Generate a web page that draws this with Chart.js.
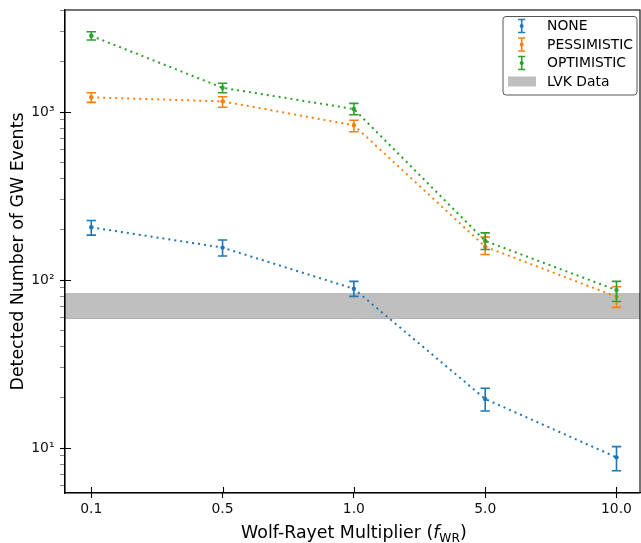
<!DOCTYPE html>
<html>
<head>
<meta charset="utf-8">
<script src="https://cdn.jsdelivr.net/npm/chart.js@4.4.0/dist/chart.umd.min.js"></script>
<style>
  html, body { margin: 0; padding: 0; background: #fff; overflow: hidden; }
  canvas { display: block; }
</style>
</head>
<body>
<canvas id="chart-gw" width="641" height="543"></canvas>
<script>
// x categories (Wolf-Rayet multiplier) and the three models, with error bar ends
var multipliers = ['0.1', '0.5', '1.0', '5.0', '10.0'];

var noneMid = [206, 156, 88.7, 19.6, 8.8];
var noneLo  = [185, 139, 80, 16.6, 7.33];
var noneHi  = [226, 173, 98.2, 22.7, 10.2];

var pessMid = [1223, 1158, 834, 158, 79.6];
var pessLo  = [1142, 1067, 763, 142, 68.8];
var pessHi  = [1303, 1233, 893, 180, 91.2];

var optMid = [2845, 1395, 1042, 171, 87.1];
var optLo  = [2683, 1303, 964, 152, 74.6];
var optHi  = [3006, 1483, 1127, 191, 98.2];

var lvkBand = [59, 83];
var yTickLabels = { 10: '10\u00b9', 100: '10\u00b2', 1000: '10\u00b3' };

var series = [
  { label: 'NONE', color: '#1f77b4', mid: noneMid, lo: noneLo, hi: noneHi },
  { label: 'PESSIMISTIC', color: '#ff7f0e', mid: pessMid, lo: pessLo, hi: pessHi },
  { label: 'OPTIMISTIC', color: '#2ca02c', mid: optMid, lo: optLo, hi: optHi }
];

var Y_MIN = 5.4, Y_MAX = 4050;
var FONT = "'DejaVu Sans', sans-serif";
Chart.defaults.font.family = FONT;

function isPow10(v) {
  var l = Math.log10(v);
  return Math.abs(l - Math.round(l)) < 1e-9;
}

function errorBar(c, x, yLo, yHi, half) {
  c.beginPath();
  c.moveTo(x, yLo); c.lineTo(x, yHi);
  c.moveTo(x - half, yLo); c.lineTo(x + half, yLo);
  c.moveTo(x - half, yHi); c.lineTo(x + half, yHi);
  c.stroke();
}

var gwPlugin = {
  id: 'gwExtras',
  beforeDatasetsDraw: function(chart) {
    var c = chart.ctx, a = chart.chartArea, ys = chart.scales.y;
    var top = ys.getPixelForValue(lvkBand[1]);
    var bot = ys.getPixelForValue(lvkBand[0]);
    c.save();
    c.fillStyle = 'rgba(128,128,128,0.5)';
    c.fillRect(a.left, top, a.right - a.left, bot - top);
    c.strokeStyle = 'rgba(128,128,128,0.45)';
    c.lineWidth = 1;
    c.beginPath();
    c.moveTo(a.left, top); c.lineTo(a.right, top);
    c.moveTo(a.left, bot); c.lineTo(a.right, bot);
    c.stroke();
    c.restore();
  },
  afterDatasetsDraw: function(chart) {
    var c = chart.ctx, a = chart.chartArea;
    var xs = chart.scales.x, ys = chart.scales.y;
    c.save();
    c.beginPath();
    c.rect(a.left, a.top, a.right - a.left, a.bottom - a.top);
    c.clip();
    c.lineWidth = 1.6;
    series.forEach(function(s) {
      c.strokeStyle = s.color;
      s.mid.forEach(function(v, i) {
        errorBar(c, xs.getPixelForValue(i), ys.getPixelForValue(s.lo[i]), ys.getPixelForValue(s.hi[i]), 4.7);
      });
    });
    c.restore();

    // spines and the inner half of major ticks
    c.save();
    c.strokeStyle = '#000';
    c.lineWidth = 1.1;
    c.strokeRect(a.left, a.top, a.right - a.left, a.bottom - a.top);
    c.beginPath();
    multipliers.forEach(function(m, i) {
      var px = Math.round(xs.getPixelForValue(i)) + 0.5;
      c.moveTo(px, a.bottom); c.lineTo(px, a.bottom - 6);
    });
    [10, 100, 1000].forEach(function(v) {
      var py = Math.round(ys.getPixelForValue(v)) + 0.5;
      c.moveTo(a.left, py); c.lineTo(a.left + 6, py);
    });
    c.stroke();
    c.restore();
  },
  afterDraw: function(chart) {
    var c = chart.ctx, a = chart.chartArea, xs = chart.scales.x;
    c.save();
    c.fillStyle = '#000';

    // y title
    c.font = '17.4px ' + FONT;
    c.textAlign = 'center';
    c.textBaseline = 'alphabetic';
    c.save();
    c.translate(22.5, (a.top + a.bottom) / 2);
    c.rotate(-Math.PI / 2);
    c.fillText('Detected Number of GW Events', 0, 0);
    c.restore();

    // x title with italic f and subscript WR
    var parts = [
      { t: 'Wolf-Rayet Multiplier (', f: '17.4px ' + FONT, dy: 0 },
      { t: 'f', f: 'oblique 17.4px ' + FONT, dy: 0 },
      { t: 'WR', f: '12.2px ' + FONT, dy: 3.6 },
      { t: ')', f: '17.4px ' + FONT, dy: 0 }
    ];
    var total = 0;
    parts.forEach(function(p) { c.font = p.f; p.w = c.measureText(p.t).width; total += p.w; });
    var x0 = xs.getPixelForValue(2) - total / 2;
    c.textAlign = 'left';
    parts.forEach(function(p) {
      c.font = p.f;
      c.fillText(p.t, x0, 538 + p.dy);
      x0 += p.w;
    });

    // legend
    var lx = 503, ly = 16.5, lw = 134, lh = 78.5;
    c.beginPath();
    c.roundRect(lx, ly, lw, lh, 3);
    c.fillStyle = 'rgba(255,255,255,0.8)';
    c.fill();
    c.strokeStyle = '#555';
    c.lineWidth = 1;
    c.stroke();

    var rows = [26, 44.5, 63, 81.5];
    c.font = '13.9px ' + FONT;
    c.textBaseline = 'middle';
    series.forEach(function(s, k) {
      var ry = rows[k];
      c.strokeStyle = s.color;
      c.lineWidth = 1.6;
      errorBar(c, 521.7, ry - 6.5, ry + 6.5, 3.6);
      c.fillStyle = s.color;
      c.beginPath();
      c.arc(521.7, ry, 2, 0, Math.PI * 2);
      c.fill();
      c.fillStyle = '#000';
      c.fillText(s.label, 547, ry + 0.5);
    });
    c.fillStyle = 'rgba(128,128,128,0.5)';
    c.fillRect(508, rows[3] - 5, 28, 10);
    c.fillStyle = '#000';
    c.fillText('LVK Data', 547, rows[3] + 0.5);
    c.restore();
  }
};

var ctx = document.getElementById('chart-gw').getContext('2d');
new Chart(ctx, {
  type: 'line',
  data: {
    datasets: series.map(function(s, k) {
      return {
        label: s.label,
        data: s.mid.map(function(v, i) { return { x: i, y: v }; }),
        borderColor: s.color,
        backgroundColor: s.color,
        borderWidth: 2,
        borderDash: [2, 4],
        borderCapStyle: 'butt',
        pointRadius: 2.2,
        pointBorderWidth: 0,
        pointBackgroundColor: s.color,
        tension: 0,
        fill: false,
        order: 3 - k
      };
    })
  },
  options: {
    responsive: false,
    animation: false,
    devicePixelRatio: 1,
    layout: { autoPadding: false, padding: { top: 10, right: 1, left: 0, bottom: 0 } },
    plugins: {
      legend: { display: false },
      tooltip: { enabled: false }
    },
    scales: {
      x: {
        type: 'linear',
        bounds: 'data',
        min: -0.2,
        max: 4.179,
        afterFit: function(s) {
          s.height = 50;
          s.paddingLeft = 0; s.paddingRight = 0;
        },
        afterBuildTicks: function(s) {
          s.ticks = multipliers.map(function(m, i) { return { value: i }; });
        },
        ticks: {
          autoSkip: false,
          maxRotation: 0,
          padding: 3,
          color: '#111',
          font: { size: 13.9 },
          callback: function(v) { return multipliers[v]; }
        },
        grid: { display: true, drawOnChartArea: false, tickLength: 5, tickColor: '#000', tickWidth: 1.1 },
        border: { display: true, color: '#000', width: 1.1 }
      },
      y: {
        type: 'logarithmic',
        bounds: 'data',
        min: Y_MIN,
        max: Y_MAX,
        afterFit: function(s) {
          s.width = 65;
          s.paddingTop = 0; s.paddingBottom = 0;
        },
        afterBuildTicks: function(s) {
          var t = [];
          for (var e = 0; e <= 3; e++) {
            for (var m = 1; m <= 9; m++) {
              var v = m * Math.pow(10, e);
              if (v >= Y_MIN && v <= Y_MAX) t.push({ value: v, major: m === 1 });
            }
          }
          s.ticks = t;
        },
        ticks: {
          autoSkip: false,
          padding: 5.5,
          color: '#111',
          font: { size: 13.9 },
          callback: function(v) { return isPow10(v) ? yTickLabels[Math.round(v)] : ''; }
        },
        grid: {
          display: true,
          drawOnChartArea: false,
          tickLength: 5,
          tickColor: function(c) { return c.tick && isPow10(c.tick.value) ? '#000' : '#777'; },
          tickWidth: function(c) { return c.tick && isPow10(c.tick.value) ? 1.1 : 0.9; }
        },
        border: { display: true, color: '#000', width: 1.1 }
      }
    }
  },
  plugins: [gwPlugin]
});
</script>
</body>
</html>
